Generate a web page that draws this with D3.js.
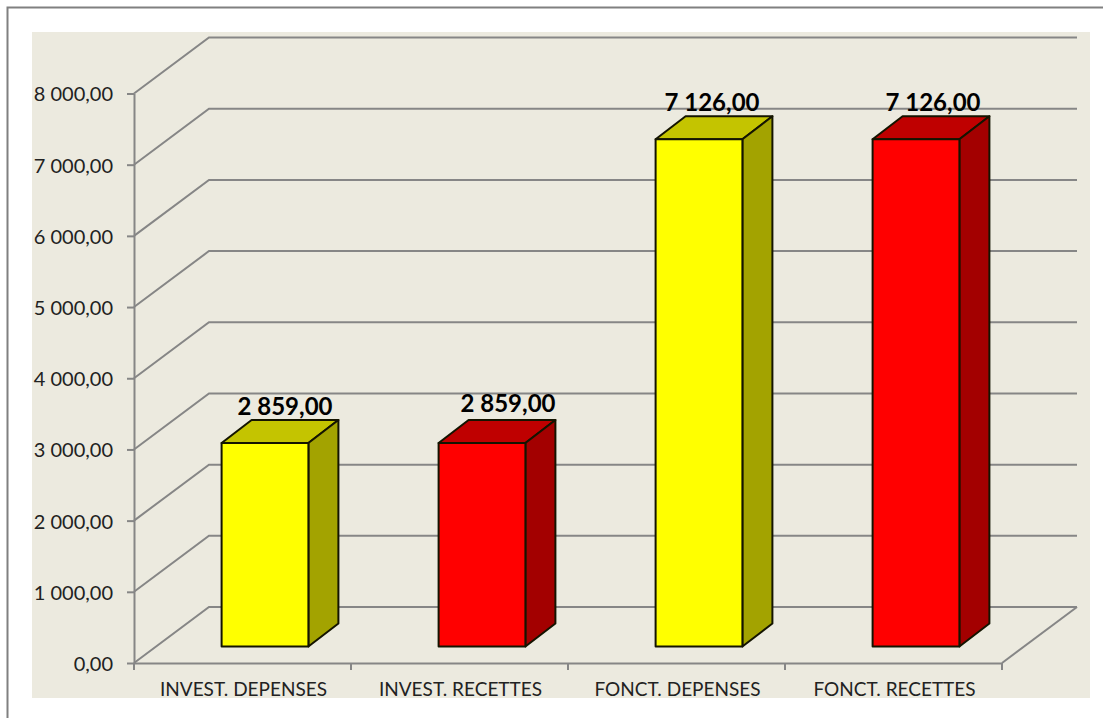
<!DOCTYPE html>
<html>
<head>
<meta charset="utf-8">
<script src="https://cdn.jsdelivr.net/npm/d3@7"></script>
<style>
  html, body { margin: 0; padding: 0; background: #fff; overflow: hidden; }
  svg { display: block; }
  text { font-family: Lato, "Open Sans", sans-serif; }
</style>
</head>
<body>
<script>
// values
var categories = ["INVEST. DEPENSES", "INVEST. RECETTES", "FONCT. DEPENSES", "FONCT. RECETTES"];
var values = [2859, 2859, 7126, 7126];
var yTicks = [0, 1000, 2000, 3000, 4000, 5000, 6000, 7000, 8000];

var faceColors = ["#ffff00", "#ff0000", "#ffff00", "#ff0000"];
var topColors = ["#c4c400", "#bf0000", "#c4c400", "#bf0000"];
var sideColors = ["#a3a300", "#a30000", "#a3a300", "#a30000"];

var w = 1103, h = 718;
var wall = { dx: 75, dy: -56 };   // depth of the floor
var box = { dx: 30, dy: -23 };    // depth of one bar
var gap = { dx: (wall.dx - box.dx) / 2, dy: (wall.dy - box.dy) / 2 };  // bars sit in the middle of the floor
var labelNudge = [20, 26, 13, 17];  // the labels are not centered on the bars in the original
var labelDy = [-28, -31, -28, -28];

var gridColor = "#868686";
var svg = d3.select("body").append("svg").attr("width", w).attr("height", h);

var x = d3.scaleBand().domain(categories).range([134, 1002]).paddingInner(0.6).paddingOuter(0.3);
var y = d3.scaleLinear().domain([0, 8000]).range([663, 93.5]);
var fr = d3.formatLocale({ decimal: ",", thousands: " ", grouping: [3], currency: ["", ""] }).format(",.2f");

// outer frame, only top and left are visible
svg.append("path").attr("d", d3.line()([[7.5, h], [7.5, 7.5], [w, 7.5]]))
  .attr("fill", "none").attr("stroke", "#808080").attr("stroke-width", 2);
svg.append("rect").attr("x", 32).attr("y", 32).attr("width", 1058).attr("height", 666).attr("fill", "#eceadf");

// walls: each gridline goes back along the side wall then across the back wall
var line = d3.line();
svg.append("g").selectAll("path").data(yTicks).enter().append("path")
  .attr("d", function(d) {
    return line([[134, y(d)], [134 + wall.dx, y(d) + wall.dy], [1002 + wall.dx, y(d) + wall.dy]]);
  })
  .attr("fill", "none").attr("stroke", gridColor).attr("stroke-width", 2);
svg.append("path")
  .attr("d", line([[1077, y(0) + wall.dy], [1002, y(0)]]))
  .attr("fill", "none").attr("stroke", gridColor).attr("stroke-width", 2);

var yAxis = svg.append("g").attr("transform", "translate(134,0)")
  .call(d3.axisLeft(y).tickValues(yTicks).tickFormat(fr).tickSize(7).tickSizeOuter(0).tickPadding(14));
yAxis.selectAll("text").attr("font-size", 20).attr("fill", "#222").attr("y", 1);

var xAxis = svg.append("g").attr("transform", "translate(0," + y(0) + ")")
  .call(d3.axisBottom(x).tickSize(0).tickPadding(20));
xAxis.selectAll("text").attr("font-size", 19).attr("fill", "#222").attr("dx", 1);
// ticks are between the categories
xAxis.selectAll("line.sep").data(d3.range(categories.length + 1)).enter().append("line")
  .attr("class", "sep")
  .attr("x1", function(i) { return 134 + i * x.step(); })
  .attr("x2", function(i) { return 134 + i * x.step(); })
  .attr("y1", 0).attr("y2", 7);
svg.selectAll(".domain, .tick line, line.sep").attr("stroke", gridColor).attr("stroke-width", 2);

// bars
var bars = svg.append("g").selectAll("g").data(values).enter().append("g")
  .attr("stroke", "#141400").attr("stroke-width", 2).attr("stroke-linejoin", "round");

function barLeft(i) { return x(categories[i]) + gap.dx; }
function barRight(i) { return barLeft(i) + x.bandwidth(); }
function barBase() { return y(0) + gap.dy; }
function barTop(d) { return y(d) + gap.dy; }

bars.append("path")  // top face
  .attr("fill", function(d, i) { return topColors[i]; })
  .attr("d", function(d, i) {
    return line([[barLeft(i), barTop(d)], [barLeft(i) + box.dx, barTop(d) + box.dy],
      [barRight(i) + box.dx, barTop(d) + box.dy], [barRight(i), barTop(d)]]) + "Z";
  });
bars.append("path")  // side face
  .attr("fill", function(d, i) { return sideColors[i]; })
  .attr("d", function(d, i) {
    return line([[barRight(i), barTop(d)], [barRight(i) + box.dx, barTop(d) + box.dy],
      [barRight(i) + box.dx, barBase() + box.dy], [barRight(i), barBase()]]) + "Z";
  });
bars.append("rect")  // front face
  .attr("fill", function(d, i) { return faceColors[i]; })
  .attr("x", function(d, i) { return barLeft(i); })
  .attr("y", function(d) { return barTop(d); })
  .attr("width", x.bandwidth())
  .attr("height", function(d) { return barBase() - barTop(d); });

svg.append("g").selectAll("text").data(values).enter().append("text")
  .attr("x", function(d, i) { return barLeft(i) + x.bandwidth() / 2 + labelNudge[i]; })
  .attr("y", function(d, i) { return barTop(d) + labelDy[i]; })
  .attr("text-anchor", "middle")
  .attr("font-size", 24)
  .attr("font-weight", "bold")
  .attr("fill", "#000")
  .text(function(d) { return fr(d); });
</script>
</body>
</html>
